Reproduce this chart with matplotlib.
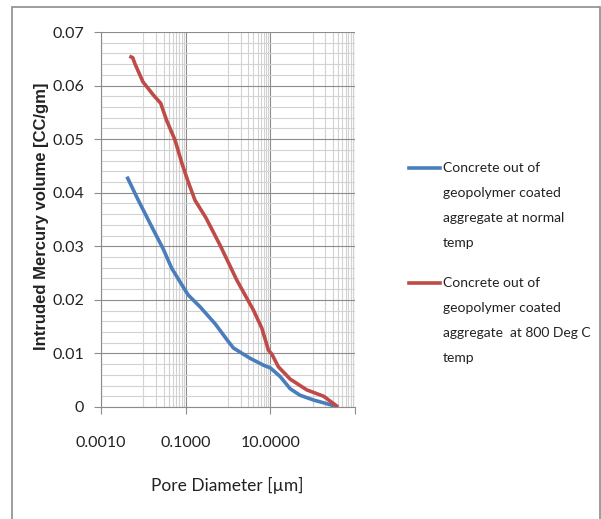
import matplotlib
matplotlib.use("Agg")
import matplotlib.pyplot as plt
import matplotlib.patches as patches
from matplotlib.lines import Line2D
from matplotlib.ticker import FixedLocator, NullFormatter

plt.rcParams['font.family'] = ['Lato', 'DejaVu Sans']

# pore diameter (um) and intruded volume (cc/gm)
d_normal = [0.0041, 0.0076, 0.0174, 0.0295, 0.0468, 0.0813, 0.115, 0.219, 0.501,
            1.0, 1.35, 3.31, 6.92, 10.0, 17.0, 29.5, 50.1, 105.0, 219.0, 398.0]
v_normal = [0.0430, 0.0386, 0.0330, 0.0295, 0.0259, 0.0228, 0.0209, 0.0187, 0.0155,
            0.0123, 0.0110, 0.0091, 0.0078, 0.0073, 0.0057, 0.0034, 0.0022, 0.0013,
            0.0006, 0.0]
d_800 = [0.00468, 0.00562, 0.00631, 0.00977, 0.0174, 0.0257, 0.0355, 0.0562, 0.0813,
         0.115, 0.166, 0.302, 0.65, 1.61, 3.98, 6.31, 9.02, 10.8, 15.5, 29.5, 72.4,
         182.0, 398.0]
v_800 = [0.0655, 0.0652, 0.0641, 0.0607, 0.0582, 0.0567, 0.0535, 0.0498, 0.0455,
         0.0420, 0.0386, 0.0353, 0.0302, 0.0237, 0.0181, 0.0147, 0.0106, 0.0099,
         0.0075, 0.0052, 0.0032, 0.0020, 0.0]

series_labels = ["Concrete out of\ngeopolymer coated\naggregate at normal\ntemp",
                 "Concrete out of\ngeopolymer coated\naggregate  at 800 Deg C\ntemp"]
series_colors = ["#4a7ebb", "#be4b48"]

x_ticks = [0.001, 0.1, 10, 1000]
x_ticklabels = ["0.0010", "0.1000", "10.0000", ""]
y_ticks = [0, 0.01, 0.02, 0.03, 0.04, 0.05, 0.06, 0.07]
y_ticklabels = ["0", "0.01", "0.02", "0.03", "0.04", "0.05", "0.06", "0.07"]

W, H = 601, 519
fig = plt.figure(figsize=(W / 100, H / 100), dpi=100)
ax = fig.add_axes([101 / W, 1 - 407 / H, 254 / W, 375 / H])

ax.set_xscale('log')
ax.set_xlim(1e-3, 1e3)
ax.set_ylim(0, 0.07)

# excel-style log axis with base 100: minor lines at 10..90 x each major
minor_x = [m * 10 * j for m in x_ticks[:-1] for j in range(1, 10)]
ax.xaxis.set_major_locator(FixedLocator(x_ticks))
ax.xaxis.set_minor_locator(FixedLocator(minor_x))
ax.xaxis.set_minor_formatter(NullFormatter())
ax.set_xticklabels(x_ticklabels)
ax.set_yticks(y_ticks)
ax.set_yticklabels(y_ticklabels)
ax.yaxis.set_minor_locator(FixedLocator([i * 0.002 for i in range(36)]))

ax.grid(True, which='minor', color='#d2d2d2', lw=0.8)
ax.grid(True, which='major', color='#8c8c8c', lw=0.8)
ax.set_axisbelow(True)

ax.tick_params(which='major', direction='out', length=5, color='#8c8c8c',
               labelsize=11.5, labelcolor='#222222')
ax.tick_params(axis='x', which='major', pad=16)
ax.tick_params(axis='y', which='major', pad=7)
ax.tick_params(which='minor', length=0)
for side in ['top', 'right']:
    ax.spines[side].set_visible(False)
for side in ['left', 'bottom']:
    ax.spines[side].set_color('#8c8c8c')
    ax.spines[side].set_linewidth(0.8)

ax.plot(d_normal, v_normal, color=series_colors[0], lw=2.6, solid_capstyle='butt')
ax.plot(d_800, v_800, color=series_colors[1], lw=2.6, solid_capstyle='butt')

fig.text(42 / W, 1 - 216 / H, "Intruded Mercury volume [CC/gm]", rotation=90,
         ha='center', va='center', fontsize=12, fontweight='bold',
         family=['Liberation Sans', 'DejaVu Sans'], color='#222222')
fig.text(227 / W, 1 - 485 / H, "Pore Diameter [\u00b5m]", ha='center', va='center',
         fontsize=12.5, color='#222222')

# legend drawn by hand so the key sits on the first text line
for label, color, y0 in zip(series_labels, series_colors, [168, 283]):
    fig.add_artist(Line2D([409 / W, 440 / W], [1 - y0 / H, 1 - y0 / H],
                          color=color, lw=2.6, transform=fig.transFigure))
    fig.text(443 / W, 1 - (y0 - 6) / H, label, ha='left', va='top',
             fontsize=10, linespacing=2.3, color='#222222')

fig.add_artist(patches.Rectangle((12 / W, -0.05), 588 / W, 1.05 - 7 / H,
                                 transform=fig.transFigure, fill=False,
                                 edgecolor='#8c8c8c', lw=1.2))

fig.savefig("out.png", dpi=100)
